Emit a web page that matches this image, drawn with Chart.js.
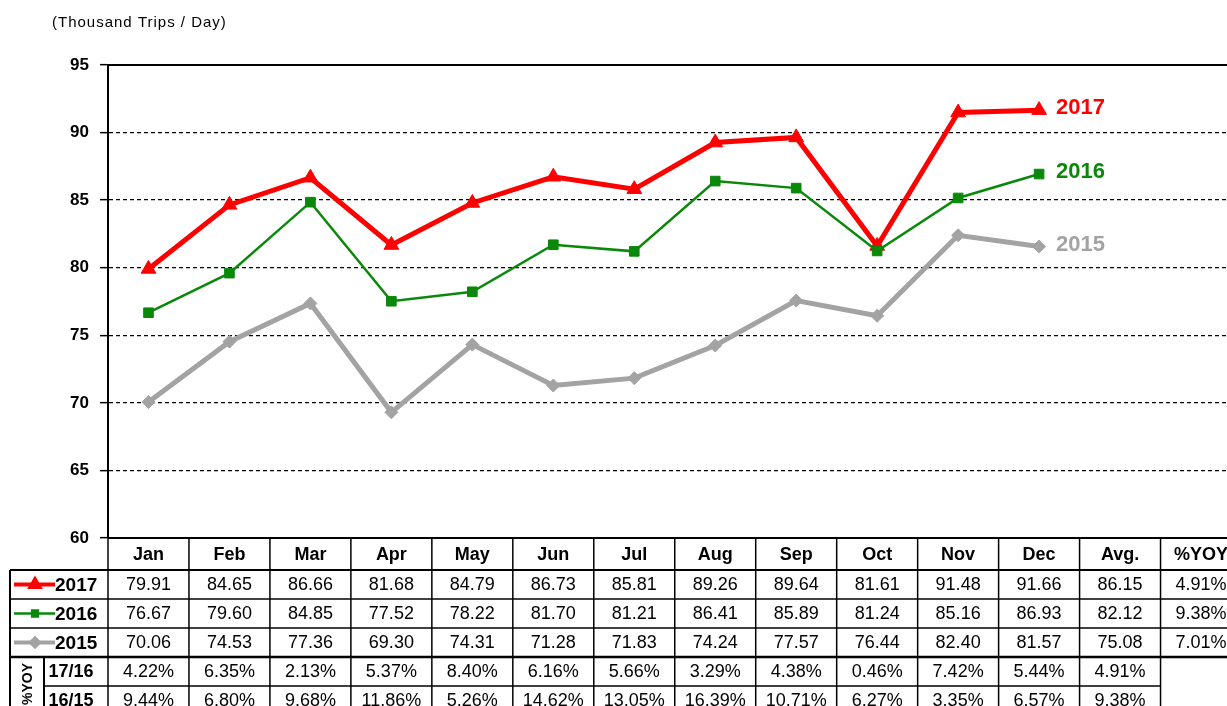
<!DOCTYPE html>
<html>
<head>
<meta charset="utf-8">
<script src="https://cdn.jsdelivr.net/npm/chart.js@4.4.0/dist/chart.umd.min.js"></script>
<style>
  html, body { margin: 0; padding: 0; background: #fff; overflow: hidden; }
  #wrap { width: 1227px; height: 706px; overflow: hidden; }
</style>
</head>
<body>
<div id="wrap"><canvas id="chart" width="1251" height="706"></canvas></div>
<script>
const months = ['Jan', 'Feb', 'Mar', 'Apr', 'May', 'Jun', 'Jul', 'Aug', 'Sep', 'Oct', 'Nov', 'Dec'];
const columns = [...months, 'Avg.', '%YOY'];
const trips2017 = [79.91, 84.65, 86.66, 81.68, 84.79, 86.73, 85.81, 89.26, 89.64, 81.61, 91.48, 91.66];
const trips2016 = [76.67, 79.60, 84.85, 77.52, 78.22, 81.70, 81.21, 86.41, 85.89, 81.24, 85.16, 86.93];
const trips2015 = [70.06, 74.53, 77.36, 69.30, 74.31, 71.28, 71.83, 74.24, 77.57, 76.44, 82.40, 81.57];
const avgTrips = [86.15, 82.12, 75.08];      // 2017, 2016, 2015
const avgYoy = [4.91, 9.38, 7.01];           // 2017, 2016, 2015
const yoy1716 = [4.22, 6.35, 2.13, 5.37, 8.40, 6.16, 5.66, 3.29, 4.38, 0.46, 7.42, 5.44, 4.91];
const yoy1615 = [9.44, 6.80, 9.68, 11.86, 5.26, 14.62, 13.05, 16.39, 10.71, 6.27, 3.35, 6.57, 9.38];
const yTicks = [60, 65, 70, 75, 80, 85, 90, 95];

const FONT = '"Liberation Sans", Arial, sans-serif';

const series = [
    { label: '2017', data: trips2017, color: '#FF0000', width: 5, style: 'triangle', radius: 8.5, legendWidth: 4 },
    { label: '2016', data: trips2016, color: '#0A880A', width: 2.5, style: 'rect', radius: 6.8, legendWidth: 2.5 },
    { label: '2015', data: trips2015, color: '#A3A3A3', width: 5, style: 'rectRot', radius: 6.5, legendWidth: 4 }
];

// table + frame + labels drawn on top of the chart
const tablePlugin = {
    id: 'dataTable',
    afterDraw(chart) {
        const { ctx, chartArea, scales: { x, y } } = chart;
        const colW = x.getPixelForValue(1) - x.getPixelForValue(0);
        const edges = columns.map((c, i) => x.getPixelForValue(i) - colW / 2);
        edges.push(x.getPixelForValue(columns.length - 1) + colW / 2);
        const rows = [chartArea.bottom, 570, 599, 628, 657, 686, 715];
        const leftEdge = 10, yoyEdge = 44;

        ctx.save();
        ctx.strokeStyle = '#000';

        // plot frame top + right
        ctx.lineWidth = 2;
        ctx.beginPath();
        ctx.moveTo(chartArea.left, chartArea.top);
        ctx.lineTo(chartArea.right, chartArea.top);
        ctx.lineTo(chartArea.right, chartArea.bottom);
        ctx.stroke();

        const hline = (yy, x1, x2, w) => {
            ctx.lineWidth = w;
            ctx.beginPath(); ctx.moveTo(x1, yy); ctx.lineTo(x2, yy); ctx.stroke();
        };
        const vline = (xx, y1, y2, w) => {
            ctx.lineWidth = w;
            ctx.beginPath(); ctx.moveTo(xx, y1); ctx.lineTo(xx, y2); ctx.stroke();
        };
        hline(rows[0], chartArea.left, edges[edges.length - 1], 2);
        hline(rows[1], leftEdge, edges[edges.length - 1], 2);
        hline(rows[2], leftEdge, edges[edges.length - 1], 1.5);
        hline(rows[3], leftEdge, edges[edges.length - 1], 1.5);
        hline(rows[4], leftEdge, edges[edges.length - 1], 2.5);
        hline(rows[5], yoyEdge, edges[13], 1.5);

        edges.forEach((ex, i) => {
            vline(ex, rows[0], i <= 13 ? rows[6] : rows[4], 1.5);
        });
        vline(leftEdge, rows[1], rows[6], 2);
        vline(yoyEdge, rows[4], rows[6], 2);

        ctx.fillStyle = '#000';
        ctx.textAlign = 'center';
        ctx.textBaseline = 'middle';

        // header
        ctx.font = 'bold 18px ' + FONT;
        columns.forEach((c, i) => {
            ctx.fillText(c, x.getPixelForValue(i), (rows[0] + rows[1]) / 2 + 1);
        });

        // series rows
        series.forEach((s, r) => {
            const cy = (rows[r + 1] + rows[r + 2]) / 2 + 1;
            ctx.font = '18px ' + FONT;
            ctx.fillStyle = '#000';
            ctx.textAlign = 'center';
            s.data.forEach((v, i) => ctx.fillText(v.toFixed(2), x.getPixelForValue(i), cy));
            ctx.fillText(avgTrips[r].toFixed(2), x.getPixelForValue(12), cy);
            ctx.fillText(avgYoy[r].toFixed(2) + '%', x.getPixelForValue(13), cy);

            // legend sample
            ctx.strokeStyle = s.color;
            ctx.lineWidth = s.legendWidth;
            ctx.beginPath(); ctx.moveTo(14, cy - 1); ctx.lineTo(55, cy - 1); ctx.stroke();
            ctx.fillStyle = s.color;
            Chart.helpers.drawPoint(ctx, { pointStyle: s.style, radius: s.radius * 0.6, rotation: 0, borderWidth: 1 }, 35, cy - 1);
            ctx.strokeStyle = '#000';

            ctx.fillStyle = '#000';
            ctx.font = 'bold 19px ' + FONT;
            ctx.textAlign = 'left';
            ctx.fillText(s.label, 55, cy);

            // series label at the right end of the line
            const last = s.data[s.data.length - 1];
            ctx.fillStyle = s.color;
            ctx.font = 'bold 22px ' + FONT;
            ctx.fillText(s.label, x.getPixelForValue(11) + 17, y.getPixelForValue(last) - 2);
        });

        // yoy rows
        [['17/16', yoy1716], ['16/15', yoy1615]].forEach(([lbl, vals], r) => {
            const cy = (rows[r + 4] + rows[r + 5]) / 2 + 1;
            ctx.fillStyle = '#000';
            ctx.font = 'bold 18px ' + FONT;
            ctx.textAlign = 'center';
            ctx.fillText(lbl, 71, cy);
            ctx.font = '18px ' + FONT;
            vals.forEach((v, i) => ctx.fillText(v.toFixed(2) + '%', x.getPixelForValue(i), cy));
        });

        // rotated %YOY
        ctx.save();
        ctx.translate(28, 684);
        ctx.rotate(-Math.PI / 2);
        ctx.font = 'bold 14px ' + FONT;
        ctx.textAlign = 'center';
        ctx.fillText('%YOY', 0, 0);
        ctx.restore();

        // unit caption
        ctx.font = '15px ' + FONT;
        ctx.letterSpacing = '1px';
        ctx.textAlign = 'left';
        ctx.fillText('(Thousand Trips / Day)', 52, 23);
        ctx.letterSpacing = '0px';

        ctx.restore();
    }
};

new Chart(document.getElementById('chart'), {
    type: 'line',
    data: {
        labels: columns,
        datasets: series.map(s => ({
            label: s.label,
            data: s.data,
            borderColor: s.color,
            backgroundColor: s.color,
            borderWidth: s.width,
            pointStyle: s.style,
            pointRadius: s.radius,
            pointBorderWidth: 1,
            tension: 0,
            fill: false
        })).reverse()
    },
    options: {
        responsive: false,
        devicePixelRatio: 1,
        animation: false,
        events: [],
        layout: { padding: { top: 65, bottom: 168, left: 0, right: 8 } },
        plugins: { legend: { display: false }, tooltip: { enabled: false } },
        scales: {
            x: {
                type: 'category',
                offset: true,
                display: false
            },
            y: {
                min: 60,
                max: 95,
                afterFit: scale => { scale.width = 108; },
                afterBuildTicks: scale => { scale.ticks = yTicks.map(v => ({ value: v })); },
                ticks: {
                    color: '#000',
                    padding: 11,
                    font: { family: FONT, size: 17, weight: 'bold' }
                },
                grid: {
                    color: ctx => (ctx.tick && (ctx.tick.value === 60 || ctx.tick.value === 95)) ? 'rgba(0,0,0,0)' : '#000',
                    lineWidth: 1.3,
                    tickColor: '#000',
                    tickLength: 8,
                    tickWidth: 1.5
                },
                border: { display: true, color: '#000', width: 2, dash: [4, 3] }
            }
        }
    },
    plugins: [tablePlugin]
});
</script>
</body>
</html>
